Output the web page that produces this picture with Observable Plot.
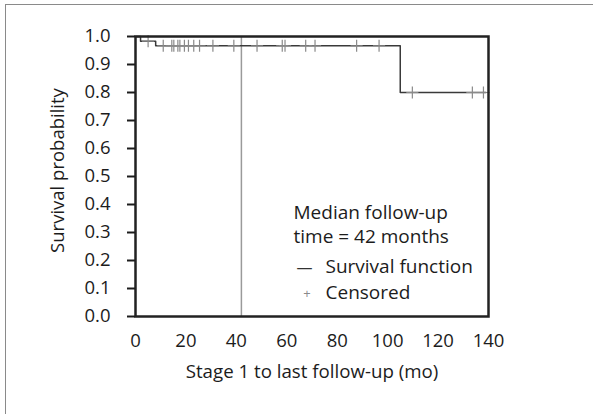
<!DOCTYPE html>
<html>
<head>
<meta charset="utf-8">
<script src="https://cdn.jsdelivr.net/npm/d3@7"></script>
<script src="https://cdn.jsdelivr.net/npm/@observablehq/plot@0.6"></script>
<style>
  html, body { margin: 0; padding: 0; background: #fff; overflow: hidden; }
  #wrap { position: relative; width: 593px; height: 414px; }
  #border { position: absolute; left: 5px; top: 4px; width: 700px; height: 600px; border: 1.5px solid #8a8a8a; box-sizing: border-box; pointer-events: none; }
  #chart { position: absolute; left: 0; top: 0; }
</style>
</head>
<body>
<div id="wrap"><div id="border"></div><div id="chart"></div></div>
<script>
// Kaplan–Meier step data
const stepTimes    = [0, 2, 8, 105, 139];
const stepSurvival = [1.0, 0.983, 0.967, 0.80, 0.80];

// Censored observation times (months)
const censoredTimes = [5, 11, 14.4, 15.2, 16.8, 17.6, 19.4, 21, 23.1, 25.4, 30.7, 39, 48.2,
                       58.2, 59.3, 67.5, 71.2, 87.7, 96.6, 109.8, 133.6, 138];

const medianFollowUp = 42;

const xTicks = [0, 20, 40, 60, 80, 100, 120, 140];
const yTicks = [0, 0.1, 0.2, 0.3, 0.4, 0.5, 0.6, 0.7, 0.8, 0.9, 1.0];

const xTitle = "Stage 1 to last follow-up (mo)";
const yTitle = "Survival probability";
const legendNote = ["Median follow-up", "time = 42 months"];
const legendLabels = ["Survival function", "Censored"];

// survival value at a censored time = level of the step curve at that time
function survivalAt(t) {
  let s = stepSurvival[0];
  for (let i = 0; i < stepTimes.length; i++) if (stepTimes[i] <= t) s = stepSurvival[i];
  return s;
}
const curve = stepTimes.map((t, i) => ({t, s: stepSurvival[i]}));
const censored = censoredTimes.map(t => ({t, s: survivalAt(t)}));

const font = "'Open Sans', 'Liberation Sans', sans-serif";
const ink = "#1c1c1c";

const chart = Plot.plot({
  width: 593,
  height: 414,
  marginLeft: 135,
  marginRight: 105,
  marginTop: 36,
  marginBottom: 98,
  style: {fontFamily: font, color: ink, background: "transparent", overflow: "visible"},
  x: {domain: [0, 140]},
  y: {domain: [0, 1]},
  marks: [
    Plot.ruleX([medianFollowUp], {stroke: "#9a9a9a", strokeWidth: 1.5}),
    Plot.line(curve, {x: "t", y: "s", curve: "step-after", stroke: "#3a3a3a", strokeWidth: 1.5}),
    Plot.dot(censored, {x: "t", y: "s", symbol: "plus", r: 4, stroke: "#8a8a8a", strokeWidth: 1.2}),
    Plot.frame({stroke: "#222", strokeWidth: 2.5}),
    Plot.axisY({ticks: yTicks, tickSize: 8, tickPadding: 17, tickFormat: d3.format(".1f"),
                fontSize: 18.5, label: null, strokeWidth: 2}),
    Plot.axisX({ticks: xTicks, tickSize: 0, tickPadding: 17, fontSize: 18.5, label: null}),
    // axis titles
    Plot.text([xTitle], {frameAnchor: "bottom", dy: 56, fontSize: 18.7, textAnchor: "middle", lineAnchor: "middle", fill: ink}),
    Plot.text([yTitle], {frameAnchor: "left", dx: -77.5, dy: -6, rotate: -90, fontSize: 18.5, textAnchor: "middle", lineAnchor: "middle", fill: ink}),
    // legend
    Plot.text([legendNote[0]], {frameAnchor: "top-left", dx: 158, dy: 176, textAnchor: "start", lineAnchor: "middle", fontSize: 19, fill: ink}),
    Plot.text([legendNote[1]], {frameAnchor: "top-left", dx: 158, dy: 200, textAnchor: "start", lineAnchor: "middle", fontSize: 19, fill: ink}),
    Plot.text(["—"], {frameAnchor: "top-left", dx: 169, dy: 231, textAnchor: "middle", lineAnchor: "middle", fontSize: 16, fill: "#333"}),
    Plot.text([legendLabels[0]], {frameAnchor: "top-left", dx: 190, dy: 230, textAnchor: "start", lineAnchor: "middle", fontSize: 19, fill: ink}),
    Plot.text(["+"], {frameAnchor: "top-left", dx: 171.5, dy: 257, textAnchor: "middle", lineAnchor: "middle", fontSize: 13, fill: "#8a8a8a"}),
    Plot.text([legendLabels[1]], {frameAnchor: "top-left", dx: 190, dy: 256, textAnchor: "start", lineAnchor: "middle", fontSize: 19, fill: ink})
  ]
});
document.getElementById("chart").appendChild(chart);
</script>
</body>
</html>
